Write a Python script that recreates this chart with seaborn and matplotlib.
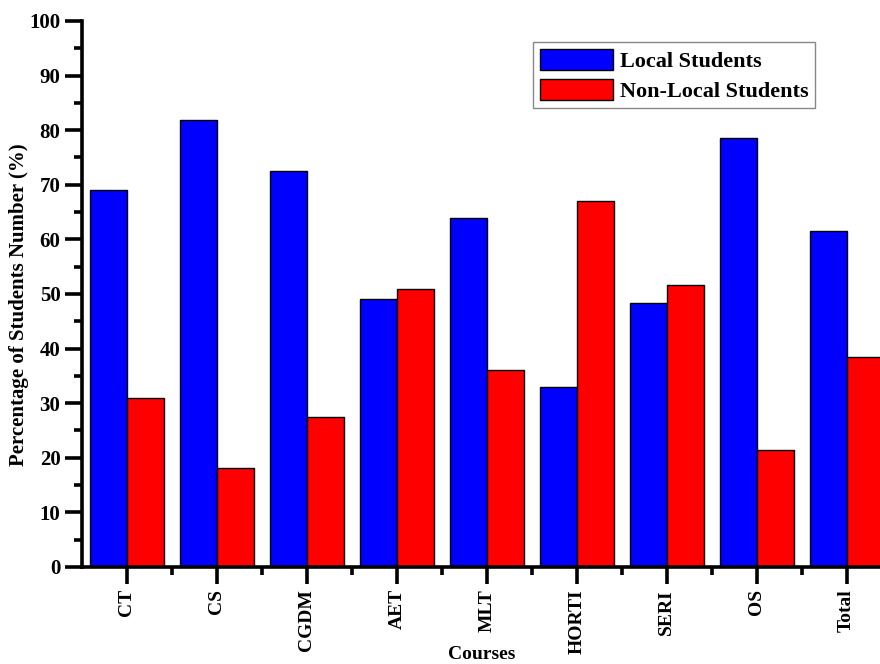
import matplotlib
matplotlib.use("Agg")
import matplotlib.pyplot as plt
import seaborn as sns
import pandas as pd
from matplotlib.ticker import MultipleLocator, FixedLocator

courses = ["CT", "CS", "CGDM", "AET", "MLT", "HORTI", "SERI", "OS", "Total"]
local_students = [69.1, 81.8, 72.5, 49.0, 64.0, 32.9, 48.3, 78.5, 61.6]
non_local_students = [30.9, 18.2, 27.5, 51.0, 36.0, 67.1, 51.7, 21.5, 38.4]
series_names = ["Local Students", "Non-Local Students"]
y_ticks = [0, 10, 20, 30, 40, 50, 60, 70, 80, 90, 100]

df = pd.DataFrame({
    "Course": courses * 2,
    "Group": [series_names[0]] * len(courses) + [series_names[1]] * len(courses),
    "Percent": local_students + non_local_students,
})

sns.set_theme(style="ticks")
plt.rcParams["font.family"] = ["Liberation Serif", "DejaVu Serif"]
plt.rcParams["font.weight"] = "bold"
plt.rcParams["text.color"] = "black"
plt.rcParams["axes.labelcolor"] = "black"
plt.rcParams["xtick.color"] = "black"
plt.rcParams["ytick.color"] = "black"

fig = plt.figure(figsize=(8.8, 6.64), dpi=100)
ax = fig.add_axes([0.0932, 0.1461, 0.920, 0.8223])

sns.barplot(data=df, x="Course", y="Percent", hue="Group", order=courses,
            hue_order=series_names, palette=["#0000ff", "#ff0000"],
            saturation=1, edgecolor="black", linewidth=1, width=0.82,
            ax=ax)

ax.set_xlim(-0.5, 8.5)
ax.set_ylim(0, 100)
ax.set_yticks(y_ticks)
ax.yaxis.set_minor_locator(MultipleLocator(5))
ax.xaxis.set_minor_locator(FixedLocator([i + 0.5 for i in range(len(courses) - 1)]))

for side in ("top", "right"):
    ax.spines[side].set_visible(False)
for side in ("left", "bottom"):
    ax.spines[side].set_linewidth(2.6)
    ax.spines[side].set_color("black")

ax.tick_params(axis="both", which="major", direction="out", length=12, width=2.6,
               colors="black")
ax.tick_params(axis="both", which="minor", direction="out", length=6, width=2.6,
               colors="black")
ax.tick_params(axis="y", labelsize=15)
ax.tick_params(axis="x", labelrotation=90, pad=4, labelsize=14)
for lab in ax.get_xticklabels() + ax.get_yticklabels():
    lab.set_fontweight("bold")

ax.set_xlabel("Courses", fontsize=14, fontweight="bold", color="black")
ax.xaxis.set_label_coords(0.4936, -0.145)
ax.xaxis.label.set_verticalalignment("top")
ax.set_ylabel("Percentage of Students Number (%)", fontsize=15, fontweight="bold",
              color="black")
ax.yaxis.set_label_coords(-0.066, 0.48)

leg = ax.legend(title=None, loc="upper left", bbox_to_anchor=(0.6057, 0.9367),
                bbox_transform=fig.transFigure, prop={"size": 16, "weight": "bold"},
                handlelength=3.3, handleheight=1.1, handletextpad=0.3,
                borderpad=0.3, labelspacing=0.3, fancybox=False, framealpha=1,
                edgecolor="#888888", borderaxespad=0, labelcolor="black")
leg.get_frame().set_linewidth(1.0)

fig.savefig("out.png", dpi=100)
